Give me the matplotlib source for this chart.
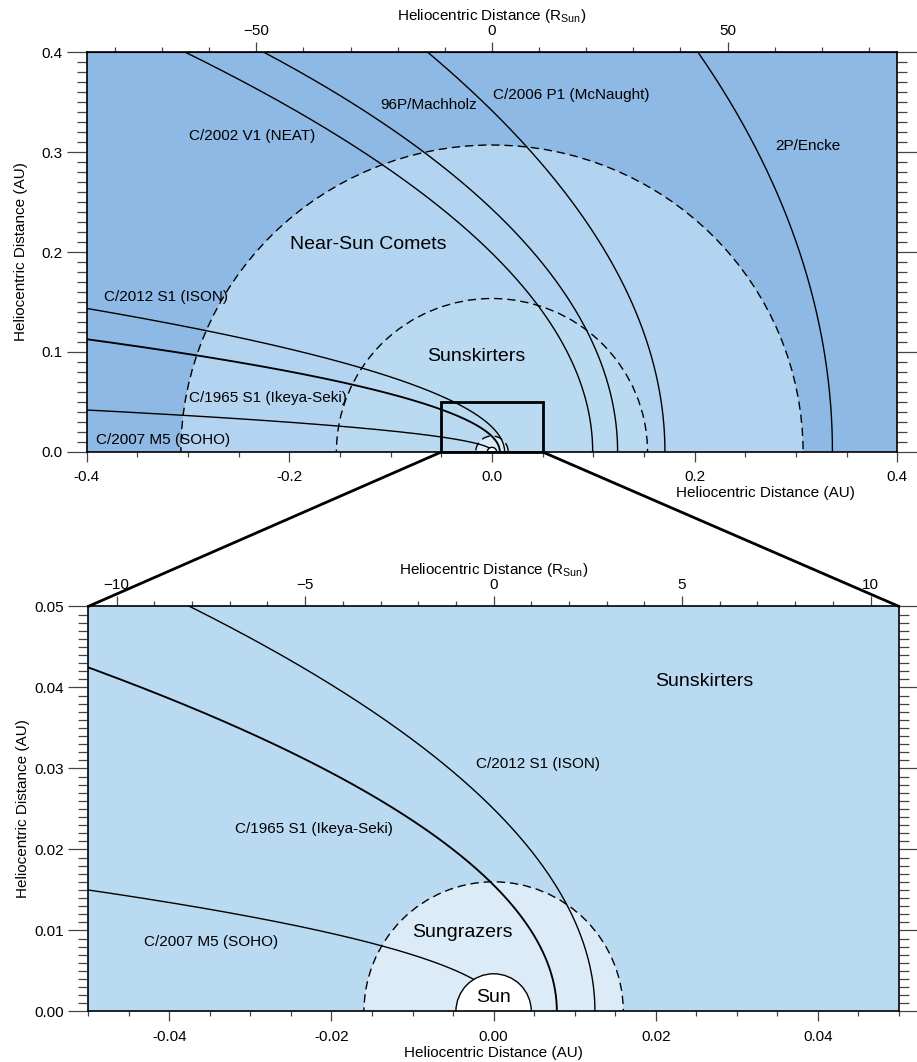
import numpy as np
import matplotlib
matplotlib.use('Agg')
import matplotlib.pyplot as plt
from matplotlib.patches import Circle, Rectangle, ConnectionPatch
from matplotlib.ticker import MultipleLocator, FixedLocator

plt.rcParams['font.family'] = ['Liberation Sans', 'DejaVu Sans']

# Constants
AU_PER_RSUN = 0.00465

# Comet orbits: perihelion distance q (AU) and eccentricity e
comet_names = ['2P/Encke', 'C/2006 P1 (McNaught)', '96P/Machholz', 'C/2002 V1 (NEAT)',
               'C/2012 S1 (ISON)', 'C/1965 S1 (Ikeya-Seki)', 'C/2007 M5 (SOHO)']
comet_q = [0.336, 0.1707, 0.124, 0.0994, 0.0125, 0.0078, 0.0011]
comet_e = [0.848, 1.0, 0.959, 1.0, 1.0, 1.0, 1.0]
comet_lw = [1.0, 1.0, 1.0, 1.0, 1.0, 1.35, 1.0]

# Region boundaries (AU)
near_sun_r = 0.307
sunskirter_r = 0.1535
sungrazer_r = 0.016
sun_r = AU_PER_RSUN

# Colours
c_outer = '#8db9e4'
c_near = '#b2d4f0'
c_skirt = '#badaf2'
c_graze = '#dcebf8'

# Top-axis ticks in solar radii
top_rsun_major = [-50, 0, 50]
top_rsun_minor = list(range(-80, 90, 10))
bot_rsun_major = [-10, -5, 0, 5, 10]
bot_rsun_minor = list(range(-10, 11, 1))

# Label positions (data coords) for each panel
top_labels = {
    'C/2002 V1 (NEAT)': (-0.237, 0.316),
    '96P/Machholz': (-0.063, 0.347),
    'C/2006 P1 (McNaught)': (0.078, 0.357),
    '2P/Encke': (0.312, 0.306),
    'C/2012 S1 (ISON)': (-0.322, 0.155),
    'C/1965 S1 (Ikeya-Seki)': (-0.221, 0.054),
    'C/2007 M5 (SOHO)': (-0.325, 0.012),
}
top_regions = {'Near-Sun Comets': (-0.122, 0.208), 'Sunskirters': (-0.016, 0.095)}
bot_labels = {
    'C/2012 S1 (ISON)': (0.0055, 0.0306),
    'C/1965 S1 (Ikeya-Seki)': (-0.0222, 0.0225),
    'C/2007 M5 (SOHO)': (-0.0349, 0.0086),
}
bot_regions = {'Sunskirters': (0.026, 0.0407), 'Sungrazers': (-0.0039, 0.0097),
               'Sun': (0.0, 0.0017)}


def orbit_xy(q, e):
    # conic with focus at the Sun, perihelion on +x
    p = q * (1 + e)
    if e >= 1:
        tmax = np.arccos(-1.0 / e) - 1e-4
    else:
        tmax = np.pi
    theta = np.linspace(0, tmax, 4000)
    r = p / (1 + e * np.cos(theta))
    keep = r < 3.0
    return r[keep] * np.cos(theta[keep]), r[keep] * np.sin(theta[keep])


def draw_scene(ax):
    ax.set_facecolor(c_outer)
    dash = (0, (6, 3.5))
    for rad, col in [(near_sun_r, c_near), (sunskirter_r, c_skirt), (sungrazer_r, c_graze)]:
        ax.add_patch(Circle((0, 0), rad, facecolor=col, edgecolor='none', zorder=1))
        ax.add_patch(Circle((0, 0), rad, facecolor='none', edgecolor='black',
                            lw=1.0, linestyle=dash, zorder=2))
    for q, e, lw in zip(comet_q, comet_e, comet_lw):
        x, y = orbit_xy(q, e)
        ax.plot(x, y, color='black', lw=lw, zorder=3)
    ax.add_patch(Circle((0, 0), sun_r, facecolor='white', edgecolor='black', lw=1.0, zorder=4))


def style_axes(ax, xmaj, xmin, ymaj, ymin, rmaj, rmin, fmt):
    ax.xaxis.set_major_locator(MultipleLocator(xmaj))
    ax.xaxis.set_minor_locator(MultipleLocator(xmin))
    ax.yaxis.set_major_locator(MultipleLocator(ymaj))
    ax.yaxis.set_minor_locator(MultipleLocator(ymin))
    ax.xaxis.set_major_formatter(fmt)
    ax.yaxis.set_major_formatter(fmt)
    ax.tick_params(axis='x', which='major', direction='out', length=7.2, width=0.9,
                   color='#444444', labelsize=11, pad=6, top=False)
    ax.tick_params(axis='x', which='minor', direction='out', length=3.6, width=0.9,
                   color='#444444', top=False)
    ax.tick_params(axis='y', which='major', direction='out', length=14.4, width=0.9,
                   color='#444444', labelsize=11, pad=3, right=True)
    ax.tick_params(axis='y', which='minor', direction='out', length=7.2, width=0.9,
                   color='#444444', right=True)
    for s in ax.spines.values():
        s.set_linewidth(1.2)
        s.set_zorder(6)
    ax.set_ylabel('Heliocentric Distance (AU)', fontsize=11)
    ax.set_xlabel('Heliocentric Distance (AU)', fontsize=11)

    sec = ax.secondary_xaxis('top', functions=(lambda v: v / AU_PER_RSUN,
                                               lambda v: v * AU_PER_RSUN))
    sec.xaxis.set_major_locator(FixedLocator(rmaj))
    sec.xaxis.set_minor_locator(FixedLocator(rmin))
    sec.tick_params(axis='x', which='major', direction='out', length=7.2, width=0.9,
                    color='#444444', labelsize=11, pad=3)
    sec.tick_params(axis='x', which='minor', direction='out', length=3.6, width=0.9,
                    color='#444444')
    sec.set_xlabel('Heliocentric Distance (R$_{\\mathregular{Sun}}$)', fontsize=11, labelpad=3)
    return sec


fig = plt.figure(figsize=(9.17, 10.62), dpi=100)
ax1 = fig.add_axes([0.0945, 0.5744, 0.884, 0.3766])
ax2 = fig.add_axes([0.0963, 0.0476, 0.884, 0.3814])

# Top panel
draw_scene(ax1)
ax1.set_xlim(-0.4, 0.4)
ax1.set_ylim(0, 0.4)
style_axes(ax1, 0.2, 0.05, 0.1, 0.01, top_rsun_major, top_rsun_minor,
           lambda v, pos: f'{v:.1f}')
ax1.xaxis.set_label_coords(0.837, -0.085)
ax1.yaxis.set_label_coords(-0.072, 0.5)
for txt, (x, y) in top_labels.items():
    ax1.text(x, y, txt, fontsize=11, ha='center', va='center', zorder=5)
for txt, (x, y) in top_regions.items():
    ax1.text(x, y, txt, fontsize=14, ha='center', va='center', zorder=5)
ax1.add_patch(Rectangle((-0.05, 0), 0.1, 0.05, facecolor='none', edgecolor='black',
                        lw=2.0, zorder=7, clip_on=False))

# Bottom panel
draw_scene(ax2)
ax2.set_xlim(-0.05, 0.05)
ax2.set_ylim(0, 0.05)
style_axes(ax2, 0.02, 0.005, 0.01, 0.001, bot_rsun_major, bot_rsun_minor,
           lambda v, pos: f'{v:.2f}')
ax2.xaxis.set_label_coords(0.5, -0.085)
ax2.yaxis.set_label_coords(-0.072, 0.5)
for txt, (x, y) in bot_labels.items():
    ax2.text(x, y, txt, fontsize=11, ha='center', va='center', zorder=5)
for txt, (x, y) in bot_regions.items():
    ax2.text(x, y, txt, fontsize=14, ha='center', va='center', zorder=5)

# Zoom connectors
for xa, xb in [(-0.05, 0.0), (0.05, 1.0)]:
    con = ConnectionPatch(xyA=(xa, 0), coordsA=ax1.transData, xyB=(xb, 1.0),
                          coordsB=ax2.transAxes, color='black', lw=2.0)
    fig.add_artist(con)

fig.savefig('out.png', dpi=100)
